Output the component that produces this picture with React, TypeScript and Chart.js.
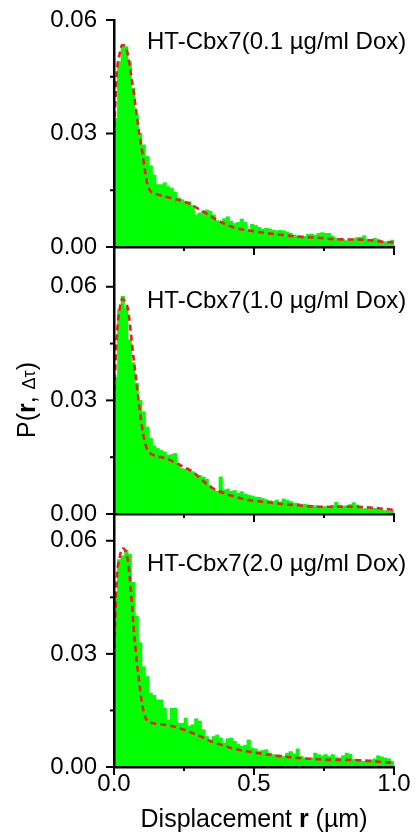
import React, { useEffect, useRef } from 'react';
import { Chart, registerables } from 'chart.js';

Chart.register(...registerables);

// ---------- DATA ----------
const BIN_WIDTH = 0.0125;
const BIN_CENTERS: number[] = Array.from({ length: 80 }, (_, k) => +(BIN_WIDTH * (k + 0.5)).toFixed(5));

const bars01: number[] = [
  0.034, 0.049, 0.0535, 0.053, 0.049, 0.042, 0.035, 0.030, 0.027, 0.024,
  0.0215, 0.019, 0.0165, 0.0165, 0.017, 0.016, 0.0155, 0.0145, 0.013, 0.0125,
  0.012, 0.012, 0.011, 0.0085, 0.009, 0.0095, 0.0098, 0.0095, 0.0085, 0.007,
  0.0065, 0.0075, 0.008, 0.0068, 0.0062, 0.0065, 0.0074, 0.0065, 0.0045, 0.006,
  0.0057, 0.0052, 0.0047, 0.005, 0.0048, 0.0045, 0.0043, 0.0044, 0.0043, 0.004,
  0.0036, 0.0032, 0.003, 0.003, 0.0028, 0.0034, 0.0034, 0.0032, 0.0036, 0.0038,
  0.0036, 0.0036, 0.0028, 0.0023, 0.0023, 0.002, 0.0017, 0.0018, 0.0022, 0.0025,
  0.0026, 0.003, 0.002, 0.002, 0.0023, 0.002, 0.0015, 0.0014, 0.0013, 0.0018,
];

const bars10: number[] = [
  0.036, 0.054, 0.0575, 0.0545, 0.046, 0.040, 0.0345, 0.030, 0.027, 0.023,
  0.020, 0.018, 0.0173, 0.0168, 0.0164, 0.0155, 0.0157, 0.016, 0.0128, 0.012,
  0.0118, 0.0117, 0.0112, 0.0105, 0.0102, 0.0098, 0.0092, 0.0075, 0.0064, 0.006,
  0.0098, 0.0064, 0.0066, 0.006, 0.0062, 0.0055, 0.0059, 0.0053, 0.005, 0.0048,
  0.0045, 0.0044, 0.0041, 0.0038, 0.0035, 0.0033, 0.0037, 0.0032, 0.004, 0.0036,
  0.0033, 0.0029, 0.0028, 0.0024, 0.0026, 0.0024, 0.0023, 0.0022, 0.0021, 0.0019,
  0.002, 0.0019, 0.0023, 0.0031, 0.0023, 0.0021, 0.0022, 0.0025, 0.003, 0.0024,
  0.0019, 0.0014, 0.0015, 0.0017, 0.0015, 0.0012, 0.0011, 0.0009, 0.0008, 0.0009,
];

const bars20: number[] = [
  0.045, 0.055, 0.056, 0.0575, 0.0565, 0.049, 0.040, 0.033, 0.0266, 0.024,
  0.0196, 0.019, 0.0178, 0.0178, 0.0156, 0.0125, 0.0156, 0.0156, 0.0116, 0.0116,
  0.013, 0.0108, 0.0112, 0.0128, 0.0122, 0.0099, 0.0081, 0.0072, 0.0081, 0.0085,
  0.0077, 0.0064, 0.0075, 0.0077, 0.0068, 0.006, 0.0055, 0.0058, 0.0072, 0.005,
  0.0048, 0.0042, 0.0044, 0.0046, 0.0037, 0.0033, 0.003, 0.0032, 0.0028, 0.0037,
  0.0041, 0.0035, 0.0048, 0.0028, 0.0024, 0.0021, 0.0024, 0.0037, 0.0033, 0.003,
  0.0033, 0.0028, 0.0033, 0.0025, 0.0024, 0.003, 0.0037, 0.0034, 0.002, 0.0015,
  0.0016, 0.0015, 0.0014, 0.0019, 0.0022, 0.003, 0.0027, 0.0024, 0.0022, 0.0015,
];

const FIT_R: number[] = [
  0, 0.01, 0.02, 0.03, 0.04, 0.05, 0.06, 0.07, 0.08, 0.09, 0.10, 0.11, 0.12, 0.13,
  0.15, 0.18, 0.21, 0.25, 0.28, 0.31, 0.34, 0.37, 0.40, 0.43, 0.48, 0.55, 0.60,
  0.66, 0.72, 0.78, 0.84, 0.90, 0.96, 1.0,
];

const fit01: number[] = [
  0.029, 0.046, 0.051, 0.0534, 0.053, 0.0507, 0.046, 0.041, 0.0355, 0.030, 0.0255, 0.0205, 0.0162, 0.0148,
  0.014, 0.0134, 0.0128, 0.012, 0.011, 0.0097, 0.0084, 0.007, 0.006, 0.0051, 0.0044, 0.0036, 0.0032,
  0.0027, 0.0025, 0.0021, 0.002, 0.0019, 0.0014, 0.0012,
];

const fit10: number[] = [
  0.030, 0.047, 0.054, 0.0568, 0.056, 0.054, 0.048, 0.041, 0.035, 0.0285, 0.023, 0.019, 0.0168, 0.016,
  0.0153, 0.0148, 0.0139, 0.0124, 0.0112, 0.0093, 0.0074, 0.0062, 0.0053, 0.0046, 0.0037, 0.0031, 0.0026,
  0.0023, 0.0019, 0.0019, 0.0019, 0.0018, 0.0014, 0.0011,
];

const fit20: number[] = [
  0.029, 0.050, 0.0555, 0.058, 0.0575, 0.0545, 0.047, 0.037, 0.029, 0.0225, 0.017, 0.0135, 0.0122, 0.0118,
  0.0115, 0.0112, 0.0108, 0.0099, 0.009, 0.0081, 0.007, 0.0062, 0.0055, 0.0048, 0.0041, 0.0033, 0.0028,
  0.0024, 0.0021, 0.0019, 0.0019, 0.0017, 0.0013, 0.0011,
];

const PANEL_LABELS: string[] = [
  'HT-Cbx7(0.1 µg/ml Dox)',
  'HT-Cbx7(1.0 µg/ml Dox)',
  'HT-Cbx7(2.0 µg/ml Dox)',
];
const Y_MAX: number[] = [0.06, 0.0705, 0.0671];
const Y_MAJOR: number[] = [0, 0.03, 0.06];
const Y_MINOR: number[] = [0.015, 0.045];
const X_MAJOR: number[] = [0, 0.5, 1.0];
const X_MINOR: number[] = [0.25, 0.75];
const X_TITLE: string[] = ['Displacement ', 'r', ' (µm)'];
const Y_TITLE: string[] = ['P(', 'r', ', ', 'Δτ', ')'];

const BARS = [bars01, bars10, bars20];
const FITS = [fit01, fit10, fit20];

// ---------- LAYOUT / STYLE ----------
const W = 417;
const H = 839;
const FONT = "'Liberation Sans', Arial, Helvetica, sans-serif";
const TOPS = [20, 247, 514];
const BOTTOMS = [247, 514, 767];
const LEFT = 114;
const RIGHT_PAD = 23;
const LABEL_X = 147;
const LABEL_BASELINES = [49, 308, 571];
const GREEN = '#00ff00';
const RED = '#ee1c24';

function drawRich(ctx: CanvasRenderingContext2D, segs: { text: string; font: string }[], cx: number, baseline: number) {
  let total = 0;
  const widths = segs.map((s) => {
    ctx.font = s.font;
    const w = ctx.measureText(s.text).width;
    total += w;
    return w;
  });
  let x = cx - total / 2;
  ctx.textAlign = 'left';
  ctx.textBaseline = 'alphabetic';
  segs.forEach((s, k) => {
    ctx.font = s.font;
    ctx.fillText(s.text, x, baseline);
    x += widths[k];
  });
}

const decorPlugin = {
  id: 'decor',
  afterDraw(chart: any, _args: any, opts: any) {
    const { ctx, chartArea } = chart;
    const xs = chart.scales.x;
    const ys = chart.scales.y;
    ctx.save();
    ctx.strokeStyle = '#000';
    ctx.lineWidth = 2;
    ctx.lineCap = 'butt';
    const drawY = (v: number, len: number) => {
      const py = ys.getPixelForValue(v);
      ctx.beginPath();
      ctx.moveTo(chartArea.left - len, py);
      ctx.lineTo(chartArea.left, py);
      ctx.stroke();
    };
    const drawX = (v: number, len: number) => {
      const px = xs.getPixelForValue(v);
      ctx.beginPath();
      ctx.moveTo(px, chartArea.bottom);
      ctx.lineTo(px, chartArea.bottom + len);
      ctx.stroke();
    };
    Y_MAJOR.forEach((v) => drawY(v, 8));
    Y_MINOR.forEach((v) => drawY(v, 4));
    X_MAJOR.forEach((v) => drawX(v, 8));
    X_MINOR.forEach((v) => drawX(v, 4));

    ctx.fillStyle = '#000';
    ctx.font = `24px ${FONT}`;
    ctx.textAlign = 'left';
    ctx.textBaseline = 'alphabetic';
    ctx.fillText(opts.label, opts.labelX, opts.labelY);

    if (opts.xTitle) {
      const n = `25px ${FONT}`;
      const b = `bold 25px ${FONT}`;
      drawRich(ctx, [
        { text: X_TITLE[0], font: n },
        { text: X_TITLE[1], font: b },
        { text: X_TITLE[2], font: n },
      ], (chartArea.left + chartArea.right) / 2, 827);
    }
    if (opts.yTitle) {
      const n = `25px ${FONT}`;
      const b = `bold 25px ${FONT}`;
      const s = `18px ${FONT}`;
      ctx.save();
      ctx.translate(35, 400);
      ctx.rotate(-Math.PI / 2);
      drawRich(ctx, [
        { text: Y_TITLE[0], font: n },
        { text: Y_TITLE[1], font: b },
        { text: Y_TITLE[2], font: n },
        { text: Y_TITLE[3], font: s },
        { text: Y_TITLE[4], font: n },
      ], 0, 0);
      ctx.restore();
    }
    ctx.restore();
  },
};

function makeConfig(i: number): any {
  const isLast = i === 2;
  return {
    type: 'bar',
    data: {
      datasets: [
        {
          type: 'line',
          data: FIT_R.map((r, j) => ({ x: r, y: FITS[i][j] })),
          borderColor: RED,
          borderWidth: 2.6,
          borderDash: [6, 4],
          pointRadius: 0,
          tension: 0.4,
          cubicInterpolationMode: 'monotone',
          fill: false,
          order: 0,
        },
        {
          type: 'bar',
          data: BIN_CENTERS.map((r, j) => ({ x: r, y: BARS[i][j] })),
          backgroundColor: GREEN,
          borderWidth: 0,
          barPercentage: 1,
          categoryPercentage: 1,
          order: 1,
        },
      ],
    },
    options: {
      responsive: false,
      animation: false,
      events: [],
      layout: { padding: { left: 0, right: RIGHT_PAD, top: TOPS[i], bottom: 0 } },
      plugins: {
        legend: { display: false },
        tooltip: { enabled: false },
        decor: {
          label: PANEL_LABELS[i],
          labelX: LABEL_X,
          labelY: LABEL_BASELINES[i],
          xTitle: isLast,
          yTitle: i === 1,
        },
      },
      scales: {
        x: {
          type: 'linear',
          min: 0,
          max: 1,
          offset: false,
          grid: { display: false, drawTicks: false, offset: false },
          border: { display: true, color: '#000', width: 2.5, z: 1 },
          ticks: {
            display: isLast,
            stepSize: 0.5,
            padding: 3,
            color: '#000',
            font: { family: FONT, size: 24, lineHeight: 1.2 },
            maxRotation: 0,
            autoSkip: false,
            callback: (v: number) => Number(v).toFixed(1),
          },
          afterFit: (s: any) => {
            s.height = H - BOTTOMS[i];
            s.paddingLeft = 0;
            s.paddingRight = 0;
          },
        },
        y: {
          type: 'linear',
          min: 0,
          max: Y_MAX[i],
          grid: { display: false, drawTicks: false },
          border: { display: true, color: '#000', width: 2.5, z: 1 },
          ticks: {
            stepSize: 0.03,
            includeBounds: false,
            padding: 17,
            color: '#000',
            font: { family: FONT, size: 24 },
            callback: (v: number) => Number(v).toFixed(2),
          },
          afterFit: (s: any) => {
            s.width = LEFT;
            s.paddingTop = 0;
            s.paddingBottom = 0;
          },
        },
      },
    },
    plugins: [decorPlugin],
  };
}

export default function App() {
  const r0 = useRef<HTMLCanvasElement>(null);
  const r1 = useRef<HTMLCanvasElement>(null);
  const r2 = useRef<HTMLCanvasElement>(null);

  useEffect(() => {
    const refs = [r0, r1, r2];
    const charts = refs.map((r, i) => new Chart(r.current as HTMLCanvasElement, makeConfig(i)));
    return () => charts.forEach((c) => c.destroy());
  }, []);

  const style: React.CSSProperties = { position: 'absolute', left: 0, top: 0 };
  return (
    <div style={{ position: 'absolute', left: 0, top: 0, width: W, height: H, background: '#fff' }}>
      <canvas ref={r0} width={W} height={H} style={style} />
      <canvas ref={r1} width={W} height={H} style={style} />
      <canvas ref={r2} width={W} height={H} style={style} />
    </div>
  );
}
